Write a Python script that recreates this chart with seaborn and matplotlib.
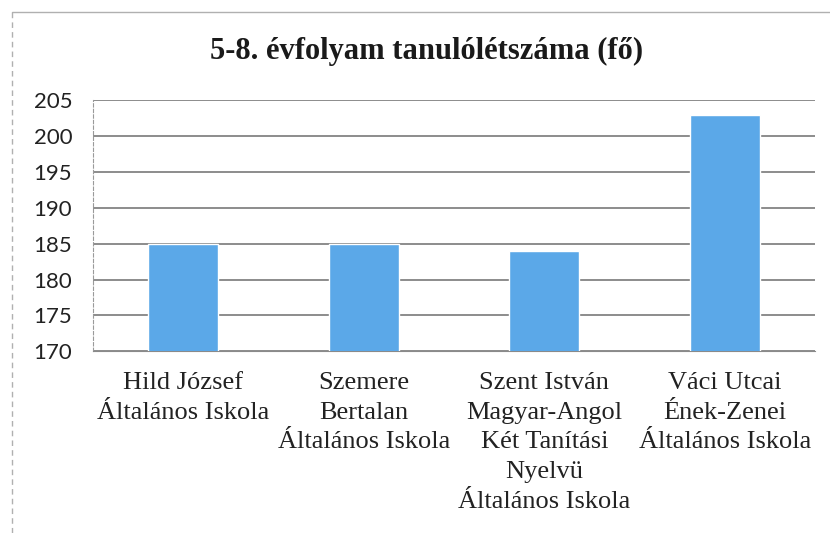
import numpy as np
import pandas as pd
import seaborn as sns
import matplotlib.pyplot as plt
from matplotlib.lines import Line2D

# Chart data
schools = [
    "Hild József\nÁltalános Iskola",
    "Szemere\nBertalan\nÁltalános Iskola",
    "Szent István\nMagyar-Angol\nKét Tanítási\nNyelvü\nÁltalános Iskola",
    "Váci Utcai\nÉnek-Zenei\nÁltalános Iskola",
]
students = [185, 185, 184, 203]
y_ticks = [170, 175, 180, 185, 190, 195, 200, 205]
title = "5-8. évfolyam tanulólétszáma (fő)"

df = pd.DataFrame({"school": schools, "students": students})

sns.set_style("white")
plt.rcParams["font.family"] = ["Liberation Serif", "DejaVu Serif"]

fig = plt.figure(figsize=(8.3, 5.33), dpi=100)
ax = fig.add_axes([0.112, 0.341, 0.870, 0.471])

sns.barplot(data=df, x="school", y="students", color="#5ba8e8",
            width=0.39, saturation=1, ax=ax, zorder=3)

ax.set_ylim(y_ticks[0], y_ticks[-1])
ax.set_xlim(-0.5, len(schools) - 0.5)
ax.set_yticks(y_ticks)
ax.grid(axis="y", color="#6e6e6e", linewidth=1.1, zorder=0)
ax.set_xlabel("")
ax.set_ylabel("")

for side in ["top", "right"]:
    ax.spines[side].set_visible(False)
ax.spines["left"].set_color("#9a9a9a")
ax.spines["left"].set_linestyle((0, (3, 2)))
ax.spines["bottom"].set_color("#8a8a8a")

# y tick labels (sans) and small outward ticks
ax.tick_params(axis="y", length=4, width=0.8, color="#9a9a9a", pad=11)
for lbl in ax.get_yticklabels():
    lbl.set_fontfamily(["Lato", "DejaVu Sans"])
    lbl.set_fontsize(16)
    lbl.set_color("#222222")

# x tick labels (serif), ticks between categories
ax.tick_params(axis="x", which="major", length=0, pad=15)
ax.set_xticks(np.arange(0.5, len(schools) - 0.5), minor=True)
ax.tick_params(axis="x", which="minor", length=5, color="#8a8a8a", direction="out")
for lbl in ax.get_xticklabels():
    lbl.set_fontsize(19)
    lbl.set_linespacing(1.45)
    lbl.set_color("#222222")

fig.text(0.514, 0.904, title, ha="center", va="center",
         fontsize=22, fontweight="bold", color="#1a1a1a")

# faint chart border from the scan
fig.add_artist(Line2D([0.014, 1.0], [0.977, 0.977], transform=fig.transFigure,
                      color="#b0b0b0", linewidth=1))
fig.add_artist(Line2D([0.014, 0.014], [0.0, 0.977], transform=fig.transFigure,
                      color="#b0b0b0", linewidth=1, linestyle=(0, (4, 3))))

fig.savefig("out.png", dpi=100)
